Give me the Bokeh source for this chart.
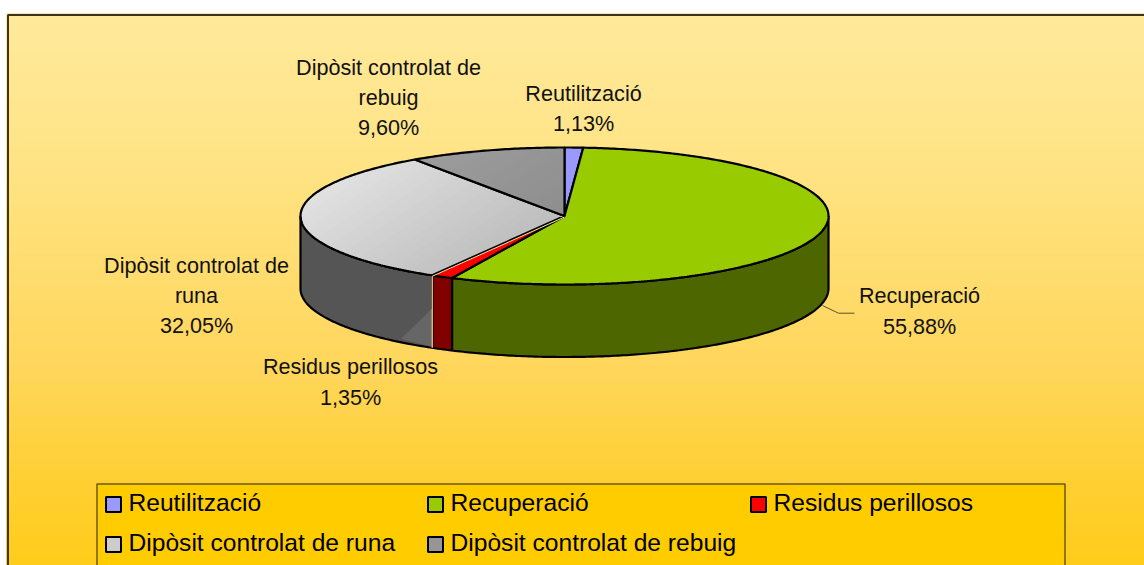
import math
from bokeh.plotting import figure
from bokeh.models import Range1d
from bokeh.core.properties import value
from bokeh.embed import file_html
from bokeh.resources import INLINE

# ---- data
names = ["Reutilització", "Recuperació", "Residus perillosos",
         "Dipòsit controlat de runa", "Dipòsit controlat de rebuig"]
shares = [1.13, 55.88, 1.35, 32.05, 9.60]
share_labels = ["1,13%", "55,88%", "1,35%", "32,05%", "9,60%"]
wrapped_names = [["Reutilització"], ["Recuperació"], ["Residus perillosos"],
                 ["Dipòsit controlat de", "runa"], ["Dipòsit controlat de", "rebuig"]]

# ---- styles
top_colors = ["#9999FF", "#99CC00", "#FF0000", "#CCCCCC", "#969696"]
side_colors = ["#4D4D80", "#4D6600", "#800000", "#555555", "#4B4B4B"]
FONT = value("Liberation Sans")
CX, CY, RX, RY, DEPTH = 564, 215.5, 264, 68.5, 72.5
label_anchor = [(583, [93, 123]), (919, [295, 326]), (350, [366, 397]),
                (196, [265, 295, 325]), (388, [67, 97, 127])]
legend_x = [105, 427, 750, 105, 427]
legend_y = [504, 504, 504, 544, 544]
legend_fill = ["#9999FF", "#99CC00", "#FF0000", "#CCCCCC", "#969696"]

p = figure(width=1144, height=565, output_backend="svg", toolbar_location=None,
           x_range=Range1d(0, 1144), y_range=Range1d(565, 0), min_border=0,
           x_axis_type=None, y_axis_type=None, outline_line_color=None,
           background_fill_color="white", border_fill_color="white")
p.grid.visible = False


def lerp_stops(y, stops):
    for (y0, c0), (y1, c1) in zip(stops, stops[1:]):
        if y <= y1:
            t = (y - y0) / (y1 - y0)
            return tuple(round(a + (b - a) * t) for a, b in zip(c0, c1))
    return stops[-1][1]


# page gradient
stops = [(13, (255, 233, 155)), (150, (255, 228, 135)), (370, (255, 214, 90)),
         (465, (255, 208, 55)), (566, (255, 204, 25))]
ys = list(range(13, 566, 3))
cols = ["#%02X%02X%02X" % lerp_stops(y, stops) for y in ys]
p.quad(left=6, right=1144, top=ys, bottom=[y + 3 for y in ys], fill_color=cols, line_color=cols,
       line_width=1)
p.line([7.5, 7.5, 1144], [566, 14.5, 14.5], line_color="#3A3520", line_width=2)


def pt(deg, dy=0.0):
    a = math.radians(deg)
    return CX + RX * math.sin(a), CY - RY * math.cos(a) + dy


def arc(a0, a1, dy=0.0):
    n = max(2, int(abs(a1 - a0) * 1.5) + 1)
    return [pt(a0 + (a1 - a0) * i / (n - 1), dy) for i in range(n)]


def clip(poly, nx, ny, c, keep_less):
    out = []
    sign = 1 if keep_less else -1
    for i in range(len(poly)):
        a, b = poly[i], poly[(i + 1) % len(poly)]
        da = sign * (a[0] * nx + a[1] * ny - c)
        db = sign * (b[0] * nx + b[1] * ny - c)
        if da <= 0:
            out.append(a)
        if (da < 0 < db) or (db < 0 < da):
            t = da / (da - db)
            out.append((a[0] + (b[0] - a[0]) * t, a[1] + (b[1] - a[1]) * t))
    return out


def gradient_fill(poly, c0, c1, steps=24):
    nx, ny = 0.55, 0.835
    proj = [q[0] * nx + q[1] * ny for q in poly]
    lo, hi = min(proj), max(proj)
    for i in range(steps):
        t0 = lo + (hi - lo) * i / steps
        t1 = lo + (hi - lo) * (i + 1) / steps
        band = clip(clip(poly, nx, ny, t0, False), nx, ny, t1, True)
        if len(band) < 3:
            continue
        g = c0 + (c1 - c0) * i / (steps - 1)
        col = "#%02X%02X%02X" % (round(g), round(g), round(g))
        p.patch([q[0] for q in band], [q[1] for q in band], fill_color=col,
                line_color=col, line_width=1)


# slice angles
total = sum(shares)
angles = [0.0]
for s in shares:
    angles.append(angles[-1] + s / total * 360)

# sides (only the front half is visible)
for i, s in enumerate(shares):
    a0, a1 = max(angles[i], 90), min(angles[i + 1], 270)
    if a1 <= a0:
        continue
    outer = arc(a0, a1) + arc(a1, a0, DEPTH)
    xs, yv = zip(*outer)
    p.patch(xs, yv, fill_color=side_colors[i], line_color="black", line_width=2.2)
    if i == 3:
        # runa side: lighter panel at its right end and a pale seam
        e = pt(a0, DEPTH)
        s0 = pt(a0)
        p.patch([s0[0] - 0.5, s0[0] - 0.5, e[0] - 31],
                [e[1] - 39, e[1] - 1, e[1] - 9],
                fill_color="#666666", line_color=None)
        p.line([s0[0], e[0]], [s0[1], e[1]], line_color="#FFE9A0", line_width=1.2)

# tops
for i, s in enumerate(shares):
    wedge = [(CX, CY)] + arc(angles[i], angles[i + 1])
    xs, yv = zip(*wedge)
    if i == 3:
        gradient_fill(wedge, 224, 190)
        p.patch(xs, yv, fill_color=None, line_color="black", line_width=2.2)
        c = pt(angles[i])
        p.line([CX, c[0]], [CY + 1, c[1] + 1], line_color="#FFE9A0", line_width=1)
    elif i == 4:
        gradient_fill(wedge, 156, 142)
        p.patch(xs, yv, fill_color=None, line_color="black", line_width=2.2)
    else:
        p.patch(xs, yv, fill_color=top_colors[i], line_color="black", line_width=2.2)

# leader line
p.line([822, 838, 854], [305, 312.7, 312.7], line_color="#555030", line_width=1)

# data labels
for (cx, rows), nm, lab in zip(label_anchor, wrapped_names, share_labels):
    lines = nm + [lab]
    p.text(x=[cx] * len(lines), y=rows, text=lines, text_font=FONT,
           text_font_size=value("21.6px"), text_color="#111111",
           text_align="center", text_baseline="middle")

# legend
p.quad(left=[96.5], right=[1064.5], top=[483.5], bottom=[600], fill_color="#FFCC00",
       line_color="#6B5A10", line_width=1.5)
for x, y, c, nm in zip(legend_x, legend_y, legend_fill, names):
    p.quad(left=[x + 0.5], right=[x + 15.5], top=[y - 7.5], bottom=[y + 7.5],
           fill_color=c, line_color="black", line_width=2)
    p.text(x=[x + 23], y=[y - 2], text=[nm], text_font=FONT,
           text_font_size=value("24.6px"), text_color="black",
           text_align="left", text_baseline="middle")

open("out.html", "w").write(file_html(p, INLINE))
